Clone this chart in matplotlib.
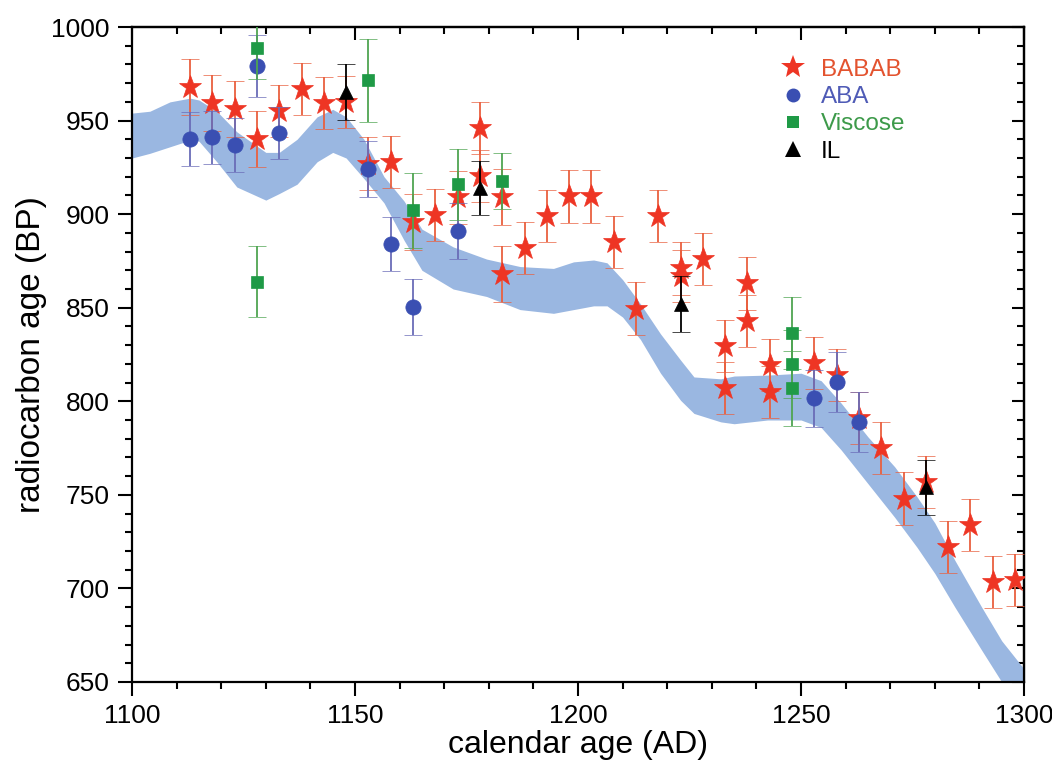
import matplotlib
matplotlib.use("Agg")
import matplotlib.pyplot as plt
from matplotlib.ticker import MultipleLocator
from matplotlib.lines import Line2D

plt.rcParams["font.family"] = ["Liberation Sans", "DejaVu Sans"]

# calibration band (calendar age, upper / lower edge in BP)
band_x = [1100, 1104, 1108.5, 1113, 1115, 1119, 1123.5, 1130, 1133, 1137, 1141.5,
          1145, 1148, 1152, 1156.5, 1161, 1165, 1172, 1179.5, 1187, 1194.5, 1199,
          1203.5, 1206.5, 1210, 1214, 1218.5, 1223, 1226, 1232, 1235, 1242.5, 1250,
          1254.5, 1259, 1265, 1271, 1276, 1280, 1284.5, 1290.5, 1295, 1300]
band_hi = [954, 955, 960, 962, 961, 955, 944, 933, 933, 940, 952,
           956, 952, 940, 920, 907, 892, 882.5, 876, 872, 871, 874.5,
           875.5, 874, 865, 852, 836, 822, 813, 812, 813.5, 814, 815,
           811, 799, 781, 765, 749, 735, 715, 690, 672, 657]
band_lo = [930, 932.5, 936, 939.5, 939, 928, 914.5, 907.5, 911, 916, 928,
           933, 930, 919, 906, 886, 870, 860, 856, 849, 847, 849,
           851, 851, 845, 833, 815, 800.5, 793.5, 789, 788, 790, 790,
           786, 774, 756, 738, 722, 708, 690, 667, 650, 635]

# BABAB (stars)
babab_x = [1113, 1118, 1123, 1128, 1133, 1138, 1143, 1148, 1153, 1158, 1163, 1168,
           1173, 1178, 1178, 1183, 1183, 1188, 1193, 1198, 1203, 1208, 1213, 1218,
           1223, 1223, 1228, 1233, 1233, 1238, 1238, 1243, 1243, 1253, 1258, 1263,
           1268, 1273, 1278, 1283, 1288, 1293, 1298]
babab_y = [968, 959.5, 956, 940, 955, 967, 959.5, 960, 927, 928, 896, 899.5,
           909, 946, 920.5, 909, 868, 882, 899, 909.5, 909.5, 885, 849.5, 899,
           871, 867, 876, 829.5, 807, 863, 843, 819.5, 805, 820.5, 814, 791,
           775, 748, 757, 722, 734, 703.5, 704.5]
babab_err = [15, 15, 15, 15, 14, 14, 14, 14, 14, 14, 15, 14,
             14, 14, 14, 15, 15, 14, 14, 14, 14, 14, 14, 14,
             14, 14, 14, 14, 14, 14, 14, 14, 14, 14, 14, 14,
             14, 14, 14, 14, 14, 14, 14]

# ABA (circles)
aba_x = [1113, 1118, 1123, 1128, 1133, 1153, 1158, 1163, 1173, 1253, 1258, 1263]
aba_y = [940, 941, 937, 979, 943.5, 924, 884, 850.5, 891, 801.5, 810.5, 789]
aba_err = [14.5, 14, 14.5, 16.5, 14, 15, 14.5, 15, 15, 15, 16, 16]

# Viscose (squares)
visc_x = [1128, 1128, 1153, 1163, 1173, 1183, 1248, 1248, 1248]
visc_y = [989, 864, 971.5, 902, 916, 917.5, 836.5, 820, 807]
visc_err = [17, 19, 22, 20, 19, 15, 19, 18, 20]

# IL (triangles)
il_x = [1148, 1178, 1223, 1278]
il_y = [965.5, 914, 852, 754]
il_err = [15, 14.5, 15, 14.5]

fig, ax = plt.subplots(figsize=(10.52, 7.72), dpi=100)
fig.subplots_adjust(left=0.1255, right=0.9734, top=0.965, bottom=0.1166)

ax.fill_between(band_x, band_lo, band_hi, color="#9ab7e1", lw=0, zorder=1)

def series(x, y, e, fmt, ms, col, ecol, lab, z):
    ax.errorbar(x, y, yerr=e, fmt=fmt, ms=ms, color=col, mec=col, mew=0.5,
                ecolor=ecol, elinewidth=1.3, capsize=6.5, capthick=1.3,
                label=lab, zorder=z)

series(babab_x, babab_y, babab_err, "*", 17, "#ee3524", "#e9603f", "BABAB", 3)
series(aba_x, aba_y, aba_err, "o", 11, "#3a4fb2", "#6a6cb8", "ABA", 4)
series(visc_x, visc_y, visc_err, "s", 8.5, "#1f9a46", "#4fa552", "Viscose", 5)
series(il_x, il_y, il_err, "^", 10, "black", "black", "IL", 6)

ax.set_xlim(1100, 1300)
ax.set_ylim(650, 1000)
ax.xaxis.set_major_locator(MultipleLocator(50))
ax.xaxis.set_minor_locator(MultipleLocator(10))
ax.yaxis.set_major_locator(MultipleLocator(50))
ax.yaxis.set_minor_locator(MultipleLocator(10))

for s in ax.spines.values():
    s.set_linewidth(1.6)

ax.tick_params(which="both", direction="out", width=1.5, labelsize=19,
               top=False, right=False, pad=6)
ax.tick_params(which="major", length=10)
ax.tick_params(which="minor", length=5)

# mirrored ticks pointing inward on top and right
sec_x = ax.secondary_xaxis("top")
sec_x.xaxis.set_major_locator(MultipleLocator(50))
sec_x.xaxis.set_minor_locator(MultipleLocator(10))
sec_x.tick_params(which="both", direction="in", width=1.5, labeltop=False)
sec_x.tick_params(which="major", length=9)
sec_x.tick_params(which="minor", length=5)
sec_x.spines["top"].set_linewidth(1.6)
sec_y = ax.secondary_yaxis("right")
sec_y.yaxis.set_major_locator(MultipleLocator(50))
sec_y.yaxis.set_minor_locator(MultipleLocator(10))
sec_y.tick_params(which="both", direction="in", width=1.5, labelright=False)
sec_y.tick_params(which="major", length=9)
sec_y.tick_params(which="minor", length=5)
sec_y.spines["right"].set_linewidth(1.6)

ax.set_xlabel("calendar age (AD)", fontsize=23, labelpad=1)
ax.set_ylabel("radiocarbon age (BP)", fontsize=24, labelpad=3)

# legend: markers only, no error bars
handles = [
    Line2D([], [], ls="", marker="*", ms=18, color="#ee3524", mew=0),
    Line2D([], [], ls="", marker="o", ms=10, color="#3a4fb2", mew=0),
    Line2D([], [], ls="", marker="s", ms=8, color="#1f9a46", mew=0),
    Line2D([], [], ls="", marker="^", ms=11, color="black", mew=0),
]
leg = ax.legend(handles, ["BABAB", "ABA", "Viscose", "IL"], loc="upper left",
                bbox_to_anchor=(0.70, 0.985), frameon=False, fontsize=17.5,
                handletextpad=0.55, labelspacing=0.22, handlelength=1.2)
for txt, c in zip(leg.get_texts(), ["#e3532f", "#4f5bb6", "#3d9a4a", "black"]):
    txt.set_color(c)

plt.savefig("out.png", dpi=100)
